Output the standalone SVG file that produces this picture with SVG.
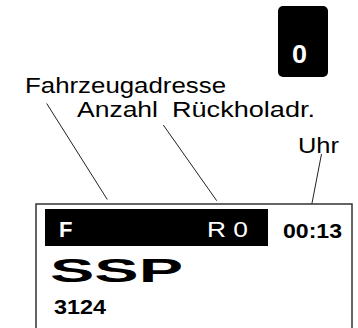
<svg xmlns="http://www.w3.org/2000/svg" width="358" height="328" viewBox="0 0 358 328">
<style>
text{font-family:"Liberation Sans",Arial,Helvetica,sans-serif;}
.lbl{font-size:22px;fill:#000;}
.b{font-weight:bold;}
.w{fill:#fff;}
.ln{stroke:#222;stroke-width:1;fill:none;}
</style>
<rect width="358" height="328" fill="#fff"/>
<g id="key">
<rect x="278" y="6" width="50" height="71" rx="5" ry="5" fill="#000"/>
<text class="b w" x="292" y="63" font-size="25" textLength="15" lengthAdjust="spacingAndGlyphs">0</text>
</g>
<g id="labels">
<text class="lbl" x="25" y="93" textLength="201" lengthAdjust="spacingAndGlyphs">Fahrzeugadresse</text>
<text class="lbl" x="77" y="117" textLength="81" lengthAdjust="spacingAndGlyphs">Anzahl</text>
<text class="lbl" x="172" y="117" textLength="143" lengthAdjust="spacingAndGlyphs">Rückholadr.</text>
<text class="lbl" x="298" y="153" textLength="41" lengthAdjust="spacingAndGlyphs">Uhr</text>
</g>
<g id="connectors">
<line class="ln" x1="46.7" y1="103.5" x2="107.3" y2="199.5"/>
<line class="ln" x1="163.3" y1="125" x2="216.7" y2="200.7"/>
<line class="ln" x1="321.5" y1="154" x2="310" y2="213.5"/>
</g>
<g id="display">
<rect x="36" y="204" width="316" height="140" fill="#fff" stroke="#333" stroke-width="1.5"/>
<rect x="45" y="209" width="223" height="37" fill="#000"/>
<text class="b w" x="59" y="236.5" font-size="22">F</text>
<text class="w" x="207" y="236.5" font-size="22" textLength="41" lengthAdjust="spacingAndGlyphs">R 0</text>
<text class="b" x="283" y="238" font-size="21" textLength="59" lengthAdjust="spacingAndGlyphs">00:13</text>
<text class="b" x="50" y="282" font-size="34" textLength="133" lengthAdjust="spacingAndGlyphs">SSP</text>
<text class="b" x="54" y="314" font-size="20" textLength="52" lengthAdjust="spacingAndGlyphs">3124</text>
</g>
</svg>
